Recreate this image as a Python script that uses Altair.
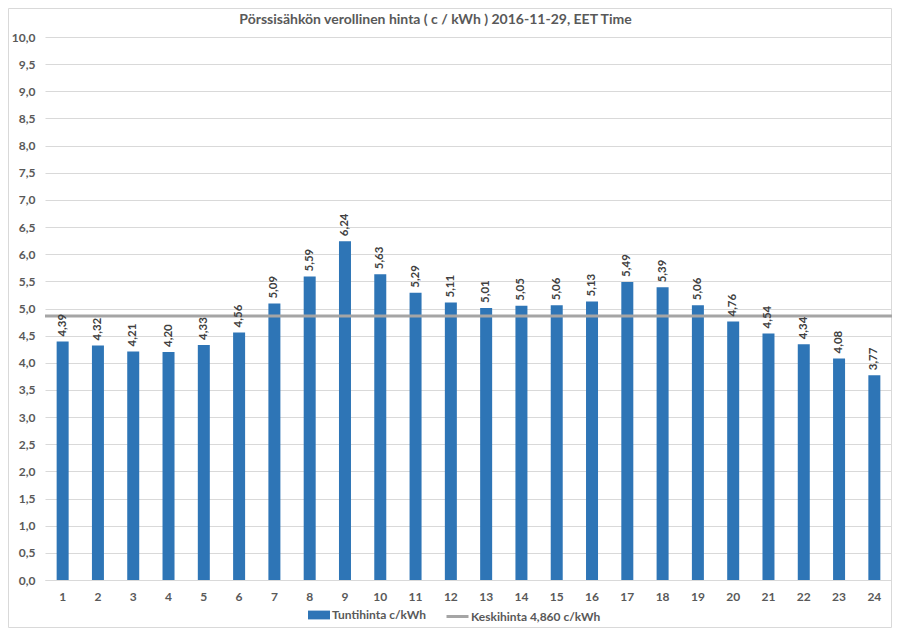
import altair as alt
import pandas as pd

hours = list(range(1, 25))
prices = [4.39, 4.32, 4.21, 4.20, 4.33, 4.56, 5.09, 5.59, 6.24, 5.63, 5.29, 5.11,
          5.01, 5.05, 5.06, 5.13, 5.49, 5.39, 5.06, 4.76, 4.54, 4.34, 4.08, 3.77]
average = 4.860
bar_name = "Tuntihinta c/kWh"
avg_name = "Keskihinta 4,860 c/kWh"
title = "Pörssisähkön verollinen hinta ( c / kWh ) 2016-11-29, EET Time"
y_ticks = [i * 0.5 for i in range(21)]

df = pd.DataFrame({
    "hour": hours,
    "price": prices,
    "label": [f"{v:.2f}".replace(".", ",") for v in prices],
    "series": [bar_name] * len(hours),
})

FONT = "Lato"
TXT = "#595959"
W, H = 847, 543

x = alt.X("hour:O", title=None,
          scale=alt.Scale(paddingInner=0.66, paddingOuter=0.33),
          axis=alt.Axis(labelAngle=0, ticks=False, domain=True, domainColor="#D9D9D9",
                        labelPadding=11, labelFont=FONT, labelFontSize=12,
                        labelColor=TXT, labelFontWeight="bold", labelOverlap=False))
y_scale = alt.Scale(domain=[0, 10], nice=False)
y_axis = alt.Axis(values=y_ticks, ticks=False, domain=False,
                  gridColor="#D9D9D9", labelPadding=10, labelOverlap=False,
                  labelExpr="replace(format(datum.value, '.1f'), '.', ',')",
                  labelFont=FONT, labelFontSize=12, labelColor=TXT,
                  labelFontWeight="bold")
y = alt.Y("price:Q", title=None, scale=y_scale, axis=y_axis)

base = alt.Chart(df)

bars = base.mark_bar().encode(
    x=x, y=y,
    fill=alt.Fill("series:N",
                  scale=alt.Scale(domain=[bar_name], range=["#2E75B6"]),
                  legend=alt.Legend(title=None, orient="none", legendX=263, legendY=567,
                                    symbolType="M-1,-0.4H1V0.4H-1Z", symbolSize=484,
                                    symbolStrokeWidth=0, labelFont=FONT, labelFontSize=12,
                                    labelColor=TXT, labelFontWeight="bold",
                                    labelOffset=2, padding=0)),
)

labels = base.mark_text(angle=270, align="left", baseline="middle", dx=5,
                        font=FONT, fontSize=11.5, fontWeight="bold", color="#404040").encode(
    x=x, y=y, text="label:N")

avg_df = pd.DataFrame({"avg": [average], "series": [avg_name]})
rule = alt.Chart(avg_df).mark_rule(strokeWidth=3).encode(
    y=alt.Y("avg:Q", title=None, scale=y_scale, axis=y_axis),
    stroke=alt.Stroke("series:N",
                      scale=alt.Scale(domain=[avg_name], range=["#A5A5A5"]),
                      legend=alt.Legend(title=None, orient="none", legendX=400, legendY=567,
                                        symbolType="stroke", symbolSize=484,
                                        symbolStrokeWidth=3, labelFont=FONT, labelFontSize=12,
                                        labelColor=TXT, labelFontWeight="bold",
                                        labelOffset=1, padding=0)),
)

border = alt.Chart(pd.DataFrame({"a": [0]})).mark_rect(
    fill=None, stroke="#D9D9D9", strokeWidth=1).encode(
    x=alt.value(-36.5), x2=alt.value(W - 0.5), y=alt.value(-28.5), y2=alt.value(H + 47.5))

chart = alt.layer(border, bars, rule, labels).resolve_scale(
    fill="independent", stroke="independent"
).properties(
    width=W, height=H,
    autosize="none",
    padding={"left": 37, "top": 29, "right": 0, "bottom": 48},
    title=alt.TitleParams(title, font=FONT, fontSize=14, fontWeight="bold", color=TXT,
                          anchor="middle", dx=-33, offset=-19),
).configure_view(stroke=None)

chart.save("out.html", embed_options={"renderer": "svg", "actions": False})
